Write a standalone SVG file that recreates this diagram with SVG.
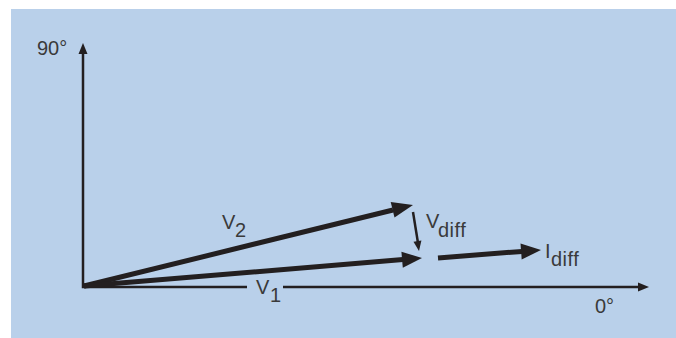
<svg xmlns="http://www.w3.org/2000/svg" width="676" height="338" viewBox="0 0 676 338">
<style>
.t{font-family:"Liberation Sans",Arial,sans-serif;font-size:20px;fill:#3a3a3a}
.ax{stroke:#231f20;stroke-width:2.5;fill:none}
.vec{stroke:#231f20;stroke-width:5;fill:none}
.head{fill:#231f20}
</style>
<rect x="0" y="0" width="676" height="338" fill="#ffffff"/>
<rect x="11" y="9" width="665" height="329" fill="#b9d0ea"/>
<g id="connectors">
  <path class="ax" d="M83,53 L83,287 L640,287"/>
  <polygon class="head" points="83,43 87.5,54 78.5,54"/>
  <polygon class="head" points="649,287 638,282.5 638,291.5"/>
  <line class="vec" x1="84" y1="286" x2="393" y2="210"/>
  <polygon class="head" points="413,205 394.5,217.6 390.7,202.1"/>
  <line class="vec" x1="84" y1="286" x2="403" y2="259.6"/>
  <polygon class="head" points="422,258 402.8,267.7 401.4,251.7"/>
  <line class="vec" x1="438" y1="258" x2="522" y2="251.4"/>
  <polygon class="head" points="541,250 521.7,259.5 520.5,243.5"/>
  <line x1="413" y1="212" x2="418" y2="243" stroke="#231f20" stroke-width="2.5"/>
  <polygon class="head" points="419,251 421.4,240.5 413.5,241.7"/>
</g>
<g id="label-90"><text class="t" x="37" y="55">90°</text></g>
<g id="label-0"><text class="t" x="595" y="313">0°</text></g>
<g id="label-V2"><text class="t" x="222" y="229">V</text><text class="t" x="235" y="237">2</text></g>
<g id="label-V1">
  <rect x="247" y="282" width="36" height="10" fill="#b9d0ea"/>
  <text class="t" x="256" y="294">V</text><text class="t" x="270" y="302">1</text>
</g>
<g id="label-Vdiff"><text class="t" x="426" y="228">V</text><text class="t" x="438" y="237" letter-spacing="0.5">diff</text></g>
<g id="label-Idiff"><text class="t" x="545" y="258">I</text><text class="t" x="551" y="266" letter-spacing="0.5">diff</text></g>
</svg>
